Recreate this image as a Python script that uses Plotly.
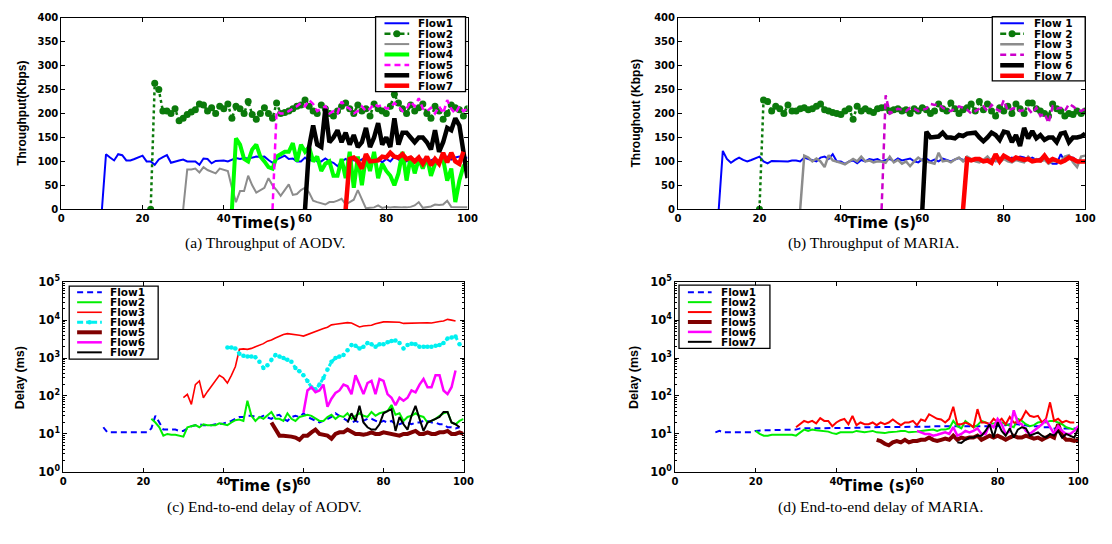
import plotly.graph_objects as go

W, H = 1112, 544

# ---------------- data ----------------
time_ticks = [0, 20, 40, 60, 80, 100]
tp_ticks = [0, 50, 100, 150, 200, 250, 300, 350, 400]
delay_ticks = [1, 10, 100, 1000, 10000, 100000]
delay_tick_labels = ["10<sup>0</sup>", "10<sup>1</sup>", "10<sup>2</sup>",
                     "10<sup>3</sup>", "10<sup>4</sup>", "10<sup>5</sup>"]

# AODV throughput (Kbps), one sample per second from each flow's start time
aodv_tp_names = ["Flow1", "Flow2", "Flow3", "Flow4", "Flow5", "Flow6", "Flow7"]
aodv_tp_starts = [10, 22, 30, 42, 52, 60, 70]
aodv_tp_flow1 = [0, 115, 108, 102, 115, 113, 102, 102, 105, 108, 112, 100, 100, 93, 104, 109, 113, 97, 100, 102,
                 104, 100, 100, 100, 93, 106, 105, 96, 101, 101, 102, 100, 104, 107, 105, 107, 106, 108, 110, 109,
                 110, 103, 97, 104, 108, 112, 105, 106, 100, 100, 108, 100, 108, 100, 100, 106, 100, 97, 90, 100,
                 105, 100, 103, 100, 104, 108, 100, 103, 106, 98, 105, 100, 110, 104, 98, 100, 105, 102, 100, 104,
                 100, 102, 106, 100, 105, 110, 104, 108, 110, 106, 108]
aodv_tp_flow2 = [0, 263, 250, 205, 205, 200, 210, 185, 190, 198, 203, 208, 220, 218, 205, 212, 200, 215, 210, 220,
                 190, 215, 210, 200, 225, 198, 188, 200, 212, 200, 190, 222, 200, 202, 205, 210, 215, 218, 228, 215,
                 205, 200, 218, 210, 200, 195, 205, 215, 222, 210, 200, 218, 205, 210, 195, 220, 210, 205, 200, 215,
                 240, 222, 210, 200, 218, 205, 212, 220, 200, 190, 215, 205, 188, 200, 218, 212, 208, 195, 210]
aodv_tp_flow3 = [0, 83, 83, 85, 77, 88, 82, 78, 75, 85, 82, 80, 45, 15, 38, 38, 70, 50, 35, 40,
                 45, 65, 50, 40, 28, 40, 52, 30, 32, 40, 45, 35, 18, 15, 12, 10, 15, 15, 18, 22,
                 10, 15, 20, 40, 20, 2, 3, 4, 8, 3, 5, 4, 5, 4, 4, 4, 5, 8, 15, 3,
                 5, 6, 10, 9, 10, 18, 5, 5, 5, 4, 4]
aodv_tp_flow4 = [0, 148, 135, 105, 100, 125, 135, 110, 100, 88, 85, 110, 115, 120, 120, 138, 100, 135, 120, 130,
                 100, 110, 80, 95, 100, 70, 70, 105, 65, 120, 45, 110, 50, 110, 80, 120, 65, 95, 80, 70,
                 50, 75, 120, 60, 110, 75, 105, 85, 110, 70, 95, 100, 105, 60, 85, 15, 60, 90, 100]
aodv_tp_flow5 = [0, 205, 200, 200, 205, 210, 215, 222, 215, 228, 220, 205, 210, 215, 200, 205, 200, 225, 215, 210,
                 200, 205, 215, 205, 210, 220, 215, 218, 210, 212, 222, 215, 205, 210, 225, 215, 232, 210, 205, 212,
                 200, 215, 200, 228, 210, 200, 215, 205, 210]
aodv_tp_flow6 = [0, 130, 175, 135, 130, 210, 140, 150, 165, 140, 160, 135, 155, 130, 140, 170, 130, 150, 180, 135,
                 150, 130, 190, 135, 160, 160, 150, 140, 150, 150, 140, 125, 165, 120, 140, 170, 165, 190, 175, 120,
                 65]
aodv_tp_flow7 = [0, 105, 108, 100, 85, 115, 100, 100, 102, 110, 108, 118, 110, 108, 115, 105, 108, 100, 108, 95,
                 110, 92, 105, 95, 118, 98, 118, 100, 95, 120]

# MARIA throughput (Kbps)
maria_tp_names = ["Flow 1", "Flow 2", "Flow 3", "Flow 5", "Flow 6", "Flow 7"]
maria_tp_starts = [10, 20, 30, 50, 60, 70]
maria_tp_flow1 = [0, 122, 105, 97, 103, 108, 103, 100, 103, 107, 110, 100, 96, 101, 101, 100, 101, 100, 102, 102,
                  100, 108, 105, 103, 100, 108, 110, 105, 115, 100, 100, 95, 100, 102, 96, 103, 100, 105, 103, 105,
                  100, 103, 105, 100, 106, 102, 104, 106, 100, 98, 104, 106, 100, 104, 100, 106, 103, 100, 104, 107,
                  103, 100, 105, 102, 104, 100, 103, 105, 100, 104, 110, 103, 108, 105, 110, 108, 104, 108, 103, 106,
                  104, 100, 95, 95, 115, 100, 105, 108, 102, 100, 100]
maria_tp_flow2 = [0, 228, 225, 205, 215, 210, 200, 218, 205, 205, 210, 212, 208, 210, 215, 220, 208, 205, 202, 200,
                  198, 205, 210, 188, 215, 205, 210, 205, 202, 210, 212, 213, 205, 208, 210, 205, 208, 200, 210, 205,
                  212, 208, 200, 205, 220, 210, 205, 222, 210, 200, 208, 212, 220, 205, 225, 208, 220, 205, 195, 212,
                  205, 215, 200, 220, 210, 200, 222, 222, 210, 205, 200, 195, 220, 210, 205, 195, 200, 198, 205, 200,
                  205]
maria_tp_flow3 = [0, 112, 108, 100, 106, 100, 88, 113, 102, 100, 97, 94, 100, 105, 100, 110, 100, 102, 98, 100,
                  100, 97, 110, 98, 103, 95, 100, 90, 100, 108, 102, 100, 98, 95, 118, 100, 102, 98, 104, 108,
                  100, 110, 105, 100, 98, 103, 110, 100, 102, 98, 105, 100, 98, 103, 100, 98, 110, 102, 105, 100,
                  103, 95, 100, 102, 100, 110, 113, 98, 88, 110, 112]
maria_tp_flow5 = [0, 238, 200, 205, 210, 208, 205, 212, 210, 205, 208, 210, 220, 218, 220, 212, 208, 205, 210, 215,
                  212, 208, 200, 205, 210, 215, 205, 218, 210, 205, 228, 205, 210, 212, 205, 208, 210, 200, 212, 195,
                  200, 180, 215, 210, 212, 205, 220, 215, 208, 205, 210]
maria_tp_flow6 = [0, 162, 150, 150, 152, 160, 150, 150, 148, 155, 153, 158, 160, 160, 150, 142, 150, 160, 155, 145,
                  162, 160, 140, 155, 132, 170, 148, 163, 148, 155, 145, 150, 150, 140, 158, 160, 140, 150, 150, 152,
                  158]
maria_tp_flow7 = [0, 105, 102, 105, 105, 100, 102, 97, 115, 100, 112, 108, 102, 108, 105, 103, 105, 100, 102, 102,
                  112, 100, 105, 102, 98, 102, 108, 105, 100, 100, 100]

# AODV end-to-end delay (ms)
aodv_delay_names = ["Flow1", "Flow2", "Flow3", "Flow4", "Flow5", "Flow6", "Flow7"]
aodv_delay_starts = [10, 22, 30, 41, 52, 60, 71]
aodv_delay_flow1 = [15, 11, 11, 11, 11, 11, 11, 11, 11, 11, 11, 11, 14, 30, 20, 13, 13, 13, 13, 12,
                    12, 14, 16, 17, 18, 17, 17, 17, 18, 18, 19, 20, 22, 25, 28, 28, 30, 30, 28, 27,
                    30, 28, 25, 30, 32, 25, 22, 28, 30, 28, 35, 28, 25, 22, 20, 22, 25, 28, 35, 30,
                    25, 22, 20, 22, 20, 22, 25, 25, 22, 20, 22, 20, 22, 18, 18, 20, 20, 18, 20, 20,
                    22, 22, 20, 20, 18, 18, 15, 15, 14, 15]
aodv_delay_flow2 = [25, 20, 15, 9, 10, 9.5, 9.5, 9, 8.5, 15, 16, 17, 15, 18, 17, 17, 17, 19, 18, 17,
                    20, 23, 24, 22, 75, 30, 22, 28, 25, 30, 38, 25, 25, 22, 35, 25, 22, 28, 30, 32,
                    30, 25, 22, 22, 28, 32, 25, 30, 28, 35, 25, 30, 35, 30, 28, 38, 30, 35, 38, 40,
                    58, 32, 35, 22, 28, 30, 35, 30, 28, 20, 22, 25, 30, 35, 38, 20, 18, 22, 25]
aodv_delay_flow3 = [90, 110, 60, 200, 250, 90, 130, 180, 250, 350, 300, 220, 350, 600, 1700, 1750, 1700, 1800, 2000, 2200,
                    2400, 2800, 3000, 3400, 3800, 4200, 4400, 4300, 4200, 4000, 3800, 4200, 4600, 5000, 5500, 6000, 6500, 7500, 7800, 8000,
                    8500, 8600, 8400, 7500, 6600, 7000, 7200, 7300, 8000, 8500, 9000, 9000, 9000, 9000, 8800, 8200, 8300, 8400, 8500, 8500,
                    8500, 8500, 8400, 8600, 9200, 9500, 10500, 10000, 9500]
aodv_delay_flow4 = [1900, 1900, 1800, 1300, 1150, 1100, 1100, 1050, 800, 550, 650, 900, 1200, 1100, 1000, 900, 800, 550, 450, 350,
                    250, 170, 150, 200, 300, 500, 800, 1000, 1100, 1200, 1600, 2200, 2100, 1800, 2000, 2500, 2300, 2000, 2300, 2300,
                    2600, 2800, 2900, 2500, 1800, 2200, 2400, 2300, 2000, 2000, 2000, 2000, 2100, 2200, 2500, 3300, 3500, 3700, 2300]
aodv_delay_flow5 = [20, 13, 9, 9, 9, 8.5, 8, 7, 9, 9, 11, 13, 10, 9.5, 9, 7.5, 10, 11, 11, 13,
                    11, 10, 10, 9.5, 10, 11, 10, 10, 11, 10.5, 10, 10, 9, 10, 10, 11, 12, 10, 10, 11,
                    10, 10, 11, 11, 12, 10, 10, 11, 10]
aodv_delay_flow6 = [36, 140, 170, 126, 140, 200, 52, 85, 120, 140, 200, 180, 112, 350, 200, 112, 220, 250, 112, 280,
                    250, 112, 90, 57, 90, 75, 90, 140, 125, 200, 280, 170, 170, 350, 350, 140, 112, 170, 470]
aodv_delay_flow7 = [20, 35, 22, 55, 20, 15, 13, 13, 18, 35, 40, 45, 12, 28, 18, 13, 30, 55, 25, 12,
                    20, 22, 25, 28, 38, 38, 20, 18, 15]

# MARIA end-to-end delay (ms)
maria_delay_names = ["Flow1", "Flow2", "Flow3", "Flow5", "Flow6", "Flow7"]
maria_delay_starts = [10, 20, 30, 50, 60, 70]
maria_delay_flow1 = [11, 12, 11, 11, 11, 11, 11, 11, 11, 11, 12, 12.5, 12.5, 12.5, 12.5, 12.5, 12.5, 12.5, 12.5, 12.5,
                     13, 14, 14, 14, 14, 14, 14, 14, 14, 14, 14, 14, 14, 14.5, 14.5, 14.5, 14.5, 15, 15, 15,
                     15, 15, 15, 15, 15, 15, 15, 15, 15.5, 15.5, 15.5, 15.5, 15.5, 15.5, 16, 16, 16, 16, 16, 16,
                     16, 16, 16, 16, 16, 16, 16, 16, 16, 16, 16, 17, 17, 18, 18, 18, 17, 17, 16, 16,
                     16, 15, 15, 15, 14, 14, 14, 14, 14, 14, 14]
maria_delay_flow2 = [12, 10, 9, 9, 9.5, 9.5, 9.5, 9.5, 9.5, 9.5, 9, 11, 13, 12, 13, 12.5, 12, 12, 11.5, 10.5,
                     10, 11, 11, 11.5, 11, 12, 11.5, 11, 11.5, 12, 11, 10.5, 10.5, 11, 11, 11.5, 12, 12, 11, 11,
                     11.5, 12, 12.5, 13, 13, 12, 13, 13, 14, 22, 16, 14, 22, 18, 15, 17, 22, 20, 18, 19,
                     20, 20, 18, 16, 15, 25, 22, 18, 16, 17, 20, 21, 20, 22, 22, 20, 18, 15, 14, 13, 15]
maria_delay_flow3 = [15, 18, 22, 20, 22, 19, 26, 22, 22, 16, 20, 23, 25, 18, 30, 17, 20, 18, 18, 20,
                     17, 20, 18, 20, 24, 20, 17, 20, 20, 22, 17, 24, 22, 33, 28, 25, 24, 20, 25, 52,
                     18, 18, 20, 18, 15, 45, 20, 20, 18, 25, 20, 25, 18, 28, 20, 20, 25, 40, 30, 28,
                     30, 20, 25, 68, 22, 25, 20, 22, 20, 20]
maria_delay_flow5 = [7, 6.5, 5.5, 5, 6, 6.5, 6, 7, 6, 6.5, 6.5, 7, 7, 8, 7, 6.5, 7, 7.5, 7, 9,
                     7, 8, 7.5, 8, 8, 9, 7, 8, 9, 8, 9, 8, 7, 8, 9, 8, 8, 9, 8, 7.5,
                     8, 7, 8, 9, 8, 18, 9, 7, 7, 6.5, 7]
maria_delay_flow6 = [12, 11, 10, 10, 9, 9.5, 10, 11, 10, 15, 9, 10, 12, 11, 12, 14, 10, 10, 18, 15,
                     25, 18, 10, 12, 42, 20, 18, 12, 10, 12, 15, 18, 23, 15, 10, 16, 12, 10, 10, 12,
                     16]
maria_delay_flow7 = [6, 5.8, 7, 8, 8, 9, 9, 12, 18, 8, 20, 12, 9, 14, 8, 13, 15, 14, 9, 10,
                     11, 9, 8, 10, 9, 12, 8, 10, 9, 8, 14]

# ---------------- styles ----------------
DGREEN = "#0b7a0b"
TICK_FONT = dict(family="DejaVu Sans", size=10, color="black", weight="bold")
LOG_TICK_FONT = dict(family="DejaVu Sans", size=11.5, color="black", weight="bold")

tp_styles_aodv = [
    dict(color="#0000ff", width=2),
    dict(color=DGREEN, width=2.5, dash="dot", marker=7, leg_dash="6px,3px,2px,3px"),
    dict(color="#8c8c8c", width=2),
    dict(color="#00ff00", width=4),
    dict(color="#ff00ff", width=2.5, dash="6px,4px"),
    dict(color="#000000", width=4.5),
    dict(color="#ff0000", width=4.5),
]
tp_styles_maria = [
    dict(color="#0000ff", width=2),
    dict(color=DGREEN, width=2.5, dash="dot", marker=7, leg_dash="6px,3px,2px,3px"),
    dict(color="#8c8c8c", width=2.5),
    dict(color="#cc00cc", width=2.5, dash="6px,4px"),
    dict(color="#000000", width=4.5),
    dict(color="#ff0000", width=4.5),
]
delay_styles_aodv = [
    dict(color="#0000ff", width=2, dash="6px,4px"),
    dict(color="#00ee00", width=2),
    dict(color="#ff0000", width=1.6),
    dict(color="#00f0f0", width=3, dash="dot", marker=4.5, leg_dash="6px,3px,2px,3px"),
    dict(color="#7f0000", width=4),
    dict(color="#ff00ff", width=2.5),
    dict(color="#000000", width=2),
]
delay_styles_maria = [
    dict(color="#0000ff", width=2, dash="6px,4px"),
    dict(color="#00ee00", width=2),
    dict(color="#ff0000", width=2),
    dict(color="#7f0000", width=4),
    dict(color="#ff00ff", width=2.5),
    dict(color="#000000", width=2),
]

fig = go.Figure()


def px(x):
    return x / W


def py(y):
    return 1 - y / H


def add_flows(starts, series, styles, xa, ya):
    for t0, vals, st in zip(starts, series, styles):
        t = list(range(t0, t0 + len(vals)))
        kw = dict(x=t, y=vals, xaxis=xa, yaxis=ya, showlegend=False, hoverinfo="skip",
                  line=dict(color=st["color"], width=st["width"], dash=st.get("dash", "solid")))
        if "marker" in st:
            kw["mode"] = "lines+markers"
            kw["marker"] = dict(color=st["color"], size=st["marker"], symbol="circle", line=dict(width=0))
        else:
            kw["mode"] = "lines"
        fig.add_trace(go.Scatter(**kw))


add_flows(aodv_tp_starts,
          [aodv_tp_flow1, aodv_tp_flow2, aodv_tp_flow3, aodv_tp_flow4, aodv_tp_flow5, aodv_tp_flow6, aodv_tp_flow7],
          tp_styles_aodv, "x", "y")
add_flows(maria_tp_starts,
          [maria_tp_flow1, maria_tp_flow2, maria_tp_flow3, maria_tp_flow5, maria_tp_flow6, maria_tp_flow7],
          tp_styles_maria, "x2", "y2")
add_flows(aodv_delay_starts,
          [aodv_delay_flow1, aodv_delay_flow2, aodv_delay_flow3, aodv_delay_flow4, aodv_delay_flow5,
           aodv_delay_flow6, aodv_delay_flow7],
          delay_styles_aodv, "x3", "y3")
add_flows(maria_delay_starts,
          [maria_delay_flow1, maria_delay_flow2, maria_delay_flow3, maria_delay_flow5, maria_delay_flow6,
           maria_delay_flow7],
          delay_styles_maria, "x4", "y4")

# ---------------- axes ----------------
panels = {
    "a": dict(x=(59, 470), y=(10, 207)),
    "b": dict(x=(683, 1095), y=(10, 207)),
    "c": dict(x=(61, 466), y=(282, 477)),
    "d": dict(x=(680, 1088), y=(282, 477)),
}


def xaxis_cfg(p, anchor):
    l, r = panels[p]["x"]
    return dict(domain=[px(l), px(r)], anchor=anchor, range=[0, 100], tickvals=time_ticks,
                showline=True, linecolor="black", linewidth=1, mirror="ticks",
                ticks="inside", ticklen=4, tickcolor="black", showgrid=False, zeroline=False,
                tickfont=TICK_FONT, fixedrange=True)


def yaxis_cfg(p, anchor, log=False):
    t, b = panels[p]["y"]
    cfg = dict(domain=[py(b), py(t)], anchor=anchor,
               showline=True, linecolor="black", linewidth=1, mirror="ticks",
               ticks="inside", ticklen=4, tickcolor="black", showgrid=False, zeroline=False,
               tickfont=TICK_FONT, fixedrange=True)
    if log:
        minor_vals = [m * 10 ** k for k in range(5) for m in range(2, 10)]
        cfg.update(type="log", range=[0, 5], tickvals=delay_ticks, ticktext=delay_tick_labels,
                   tickfont=LOG_TICK_FONT,
                   minor=dict(tickvals=minor_vals, ticks="inside", ticklen=2, tickcolor="black"))
    else:
        cfg.update(range=[0, 400], tickvals=tp_ticks)
    return cfg


layout = dict(
    width=W, height=H, margin=dict(l=0, r=0, t=0, b=0),
    paper_bgcolor="white", plot_bgcolor="white", showlegend=False,
    xaxis=xaxis_cfg("a", "y"), yaxis=yaxis_cfg("a", "x"),
    xaxis2=xaxis_cfg("b", "y2"), yaxis2=yaxis_cfg("b", "x2"),
    xaxis3=xaxis_cfg("c", "y3"), yaxis3=yaxis_cfg("c", "x3", log=True),
    xaxis4=xaxis_cfg("d", "y4"), yaxis4=yaxis_cfg("d", "x4", log=True),
)
fig.update_layout(**layout)

annotations = []
shapes = []


def text(x, y, s, size, family="DejaVu Sans", angle=0, xanchor="center"):
    annotations.append(dict(x=px(x), y=py(y), xref="paper", yref="paper", text=s, showarrow=False,
                            xanchor=xanchor, yanchor="middle", textangle=angle, borderpad=0,
                            font=dict(family=family, size=size, color="black")))


# axis titles
text(264, 221, "<b>Time(s)</b>", 15)
text(889, 221, "<b>Time (s)</b>", 15)
text(264, 492, "<b>Time (s)</b>", 15)
text(884, 492, "<b>Time (s)</b>", 15)
text(19, 108, "<b>Throughput(Kbps)</b>", 12, family="Liberation Sans", angle=-90)
text(641, 108, "<b>Throughout (Kbps)</b>", 12, family="Liberation Sans", angle=-90)
text(17, 380, "<b>Delay (ms)</b>", 12.5, family="Liberation Sans", angle=-90)
text(638, 380, "<b>Delay (ms)</b>", 12.5, family="Liberation Sans", angle=-90)

# captions
text(265, 242, "(a) Throughput of AODV.", 15.5, family="Liberation Serif")
text(881, 242, "(b) Throughput of MARIA.", 15.5, family="Liberation Serif")
text(265, 513, "(c) End-to-end delay of AODV.", 15.5, family="Liberation Serif")
text(888, 513, "(d) End-to-end delay of MARIA.", 15.5, family="Liberation Serif")


def draw_legend(box, row0, step, line_x, text_x, names, styles):
    l, t, r, b = box
    shapes.append(dict(type="rect", xref="paper", yref="paper", x0=px(l), x1=px(r), y0=py(b), y1=py(t),
                       line=dict(color="black", width=1.3), fillcolor="white", layer="above"))
    for i, (name, st) in enumerate(zip(names, styles)):
        y = row0 + i * step
        shapes.append(dict(type="line", xref="paper", yref="paper", x0=px(line_x[0]), x1=px(line_x[1]),
                           y0=py(y), y1=py(y), layer="above",
                           line=dict(color=st["color"], width=st["width"],
                                     dash=st.get("leg_dash", st.get("dash", "solid")))))
        if "marker" in st:
            xm = (line_x[0] + line_x[1]) / 2
            rr = st["marker"] / 2
            shapes.append(dict(type="circle", xref="paper", yref="paper", layer="above",
                               xsizemode="pixel", ysizemode="pixel", xanchor=px(xm), yanchor=py(y),
                               x0=-rr, x1=rr, y0=-rr, y1=rr,
                               fillcolor=st["color"], line=dict(width=0)))
        text(text_x, y, "<b>" + name + "</b>", 10.5, xanchor="left")


draw_legend((377, 9, 468, 86), 15.7, 10.7, (386, 411), 419, aodv_tp_names, tp_styles_aodv)
draw_legend((1001, 9, 1095, 75), 15.7, 10.8, (1009, 1033), 1042, maria_tp_names, tp_styles_maria)
draw_legend((67, 286, 157, 361), 292.3, 10.3, (75, 100), 107, aodv_delay_names, delay_styles_aodv)
draw_legend((684, 285, 776, 350), 292.3, 10.2, (693, 717), 725, maria_delay_names, delay_styles_maria)

fig.update_layout(annotations=annotations, shapes=shapes)
fig.write_html("out.html")
